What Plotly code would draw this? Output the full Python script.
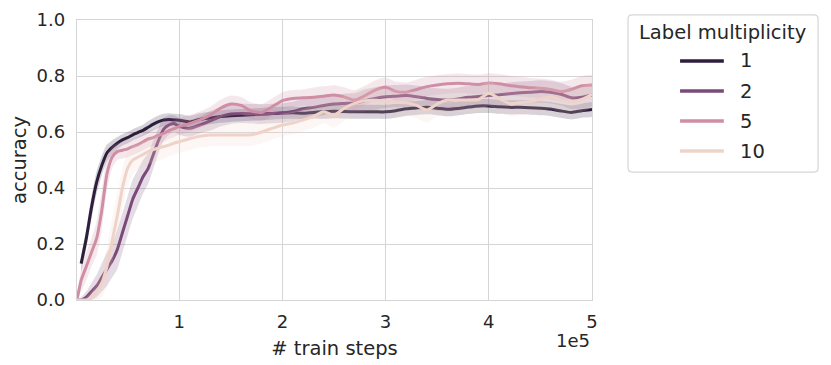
import plotly.graph_objects as go

# train steps in units of 1e5
steps = [0.01, 0.05, 0.1, 0.15, 0.2, 0.25, 0.3, 0.35, 0.4, 0.45, 0.5, 0.55, 0.6, 0.65, 0.7, 0.75,
         0.8, 0.85, 0.9, 0.95, 1.0,
         1.1, 1.2, 1.3, 1.4, 1.5, 1.6, 1.7, 1.8, 1.9, 2.0, 2.1, 2.2, 2.3, 2.4, 2.5, 2.6, 2.7, 2.8,
         2.9, 3.0, 3.1, 3.2, 3.3, 3.4, 3.5, 3.6, 3.7, 3.8, 3.9, 4.0, 4.1, 4.2, 4.3, 4.4, 4.5, 4.6,
         4.7, 4.8, 4.9, 5.0]

labels = ['1', '2', '5', '10']

acc_1 = [None, .13, .22, .33, .42, .48, .525, .545, .56, .572, .58, .59, .598, .606, .617, .628,
         .637, .643, .645, .643, .642,
         .636, .645, .650, .655, .658, .660, .662, .664, .666, .668, .669, .667, .670, .672, .674,
         .673, .672, .672, .672, .672, .676, .683, .686, .688, .685, .681, .684, .689, .693, .693,
         .690, .688, .688, .687, .685, .682, .675, .670, .676, .680]
ci_1 = [0, .03, .035, .04, .04, .035, .03, .025, .022, .02, .02, .02, .02, .02, .022, .022,
        .022, .022, .022, .022, .022,
        .022, .022, .022, .022, .022, .022, .022, .022, .022, .022, .022, .022, .022, .025, .025,
        .025, .025, .025, .025, .025, .025, .025, .025, .025, .025, .025, .025, .025, .025, .025,
        .025, .025, .025, .025, .025, .025, .025, .025, .025, .025]

acc_2 = [0.0, 0.0, 0.01, 0.03, 0.05, 0.08, 0.11, 0.14, 0.18, 0.24, 0.30, 0.36, 0.40, 0.44, 0.47, 0.52,
         0.57, 0.61, 0.625, 0.63, 0.62,
         .613, .625, .640, .655, .664, .666, .665, .664, .666, .668, .673, .683, .688, .695, .700,
         .702, .704, .712, .720, .726, .728, .730, .726, .720, .716, .714, .718, .724, .727, .730,
         .733, .737, .740, .742, .745, .742, .735, .722, .724, .732]
ci_2 = [0, .01, .02, .03, .04, .05, .06, .06, .07, .07, .07, .07, .065, .06, .055, .05,
        .045, .04, .035, .03, .03,
        .03, .03, .035, .035, .035, .035, .035, .035, .035, .035, .035, .035, .035, .035, .035,
        .035, .035, .04, .04, .04, .04, .04, .04, .04, .04, .04, .04, .04, .04, .04,
        .04, .04, .04, .04, .04, .04, .04, .04, .04, .04]

acc_5 = [0.0, 0.07, 0.12, 0.17, 0.22, 0.32, 0.45, 0.51, 0.53, 0.535, 0.54, 0.548, 0.555, 0.565,
         0.575, 0.58, 0.588, 0.595, 0.605, 0.612, 0.62,
         .630, .643, .660, .685, .700, .695, .675, .670, .690, .712, .720, .722, .724, .728, .732,
         .725, .714, .730, .750, .760, .745, .742, .752, .762, .768, .772, .774, .772, .770, .775,
         .772, .766, .762, .758, .756, .752, .745, .752, .765, .768]
ci_5 = [0, .04, .05, .05, .06, .07, .06, .04, .03, .03, .03, .03, .03, .03, .03, .03,
        .03, .03, .03, .03, .03,
        .03, .03, .03, .03, .03, .03, .03, .03, .03, .03, .03, .03, .035, .035, .035,
        .035, .035, .035, .035, .035, .035, .035, .035, .035, .035, .035, .035, .035, .035, .035,
        .035, .035, .035, .035, .035, .035, .035, .035, .035, .035]

acc_10 = [0.0, 0.0, 0.0, 0.01, 0.03, 0.06, 0.12, 0.21, 0.30, 0.40, 0.47, 0.50, 0.51, 0.52, 0.53, 0.537,
          0.543, 0.548, 0.553, 0.56, 0.565,
          .576, .585, .589, .589, .589, .589, .590, .600, .613, .625, .632, .643, .655, .672, .660,
          .685, .702, .712, .713, .710, .706, .704, .695, .679, .700, .714, .714, .714, .716, .738,
          .720, .702, .705, .708, .718, .726, .713, .708, .716, .735]
ci_10 = [0, 0, .01, .02, .03, .05, .07, .08, .08, .07, .06, .05, .045, .045, .045, .045,
         .045, .045, .04, .04, .04,
         .04, .04, .04, .04, .04, .04, .04, .04, .04, .04, .04, .04, .04, .04, .045,
         .045, .045, .045, .045, .045, .045, .045, .045, .045, .045, .045, .045, .045, .045, .045,
         .045, .045, .045, .045, .045, .045, .045, .045, .045, .045]

colors = ['#2d1e3e', '#7a4a78', '#cf8ea3', '#f0d3c8']
fills = ['rgba(45,30,62,0.2)', 'rgba(122,74,120,0.2)', 'rgba(207,142,163,0.2)', 'rgba(240,211,200,0.2)']

fig = go.Figure()

for lab, acc, ci, col, fc in zip(labels, [acc_1, acc_2, acc_5, acc_10],
                                 [ci_1, ci_2, ci_5, ci_10], colors, fills):
    xs = [s for s, a in zip(steps, acc) if a is not None]
    lo = [max(a - c, 0) for a, c in zip(acc, ci) if a is not None]
    hi = [a + c for a, c in zip(acc, ci) if a is not None]
    # confidence band
    fig.add_trace(go.Scatter(
        x=xs + xs[::-1], y=hi + lo[::-1],
        fill='toself', fillcolor=fc,
        line=dict(width=0, shape='spline', smoothing=0.6),
        mode='lines', hoverinfo='skip', showlegend=False
    ))
    fig.add_trace(go.Scatter(
        x=xs, y=[a for a in acc if a is not None],
        mode='lines', name=lab, showlegend=False,
        line=dict(color=col, width=3, shape='spline', smoothing=0.6)
    ))

# legend drawn by hand (matplotlib style box)
bx0, bx1, by0, by1 = 1.070, 1.439, 0.457, 1.018
rx, ry = 0.008, 0.014
box = (f"M {bx0+rx},{by0} L {bx1-rx},{by0} Q {bx1},{by0} {bx1},{by0+ry} "
       f"L {bx1},{by1-ry} Q {bx1},{by1} {bx1-rx},{by1} L {bx0+rx},{by1} "
       f"Q {bx0},{by1} {bx0},{by1-ry} L {bx0},{by0+ry} Q {bx0},{by0} {bx0+rx},{by0} Z")
fig.add_shape(type='path', path=box, xref='paper', yref='paper',
              line=dict(color='#d6d6d6', width=1.2), fillcolor='white')
fig.add_annotation(text='Label multiplicity', xref='paper', yref='paper',
                   x=1.254, y=0.954, xanchor='center', yanchor='middle',
                   showarrow=False, font=dict(size=19.5, color='#262626'))
row_y = [0.854, 0.746, 0.639, 0.532]
for lab, col, yy in zip(labels, colors, row_y):
    fig.add_shape(type='line', xref='paper', yref='paper', x0=1.171, x1=1.256, y0=yy, y1=yy,
                  line=dict(color=col, width=3.5))
    fig.add_annotation(text=lab, xref='paper', yref='paper', x=1.283, y=yy,
                       xanchor='left', yanchor='middle', showarrow=False,
                       font=dict(size=19.5, color='#262626'))

fig.update_xaxes(
    range=[0.01, 5.0], tickvals=[1, 2, 3, 4, 5], ticktext=['1', '2', '3', '4', '5'],
    showgrid=True, gridcolor='#d5d5d5', gridwidth=1.3,
    showline=True, linecolor='#d5d5d5', linewidth=1.3, mirror=True,
    zeroline=False, ticks='', ticklabelstandoff=5, automargin=False,
    tickfont=dict(size=18),
    title=dict(text='# train steps', standoff=10, font=dict(size=19.5)),
)
fig.update_yaxes(
    range=[0, 1.0], tickvals=[0, 0.2, 0.4, 0.6, 0.8, 1.0],
    ticktext=['0.0', '0.2', '0.4', '0.6', '0.8', '1.0'],
    showgrid=True, gridcolor='#d5d5d5', gridwidth=1.3,
    showline=True, linecolor='#d5d5d5', linewidth=1.3, mirror=True,
    zeroline=False, ticks='', ticklabelstandoff=7, automargin=False,
    tickfont=dict(size=18),
    title=dict(text='accuracy', standoff=8, font=dict(size=19.5)),
)

fig.add_annotation(
    text='1e5', xref='paper', yref='paper', x=1.0, y=-0.143,
    xanchor='right', yanchor='middle', showarrow=False,
    font=dict(size=18, color='#262626')
)

# the page body adds an 8px offset, so the figure is sized to fit inside the window
fig.update_layout(
    width=823, height=357,
    template='plotly_white', showlegend=False,
    paper_bgcolor='white', plot_bgcolor='white',
    font=dict(family='DejaVu Sans', size=18, color='#262626'),
    margin={'t': 12, 'b': 65, 'l': 69, 'r': 239},
)

fig.write_html("out.html")
